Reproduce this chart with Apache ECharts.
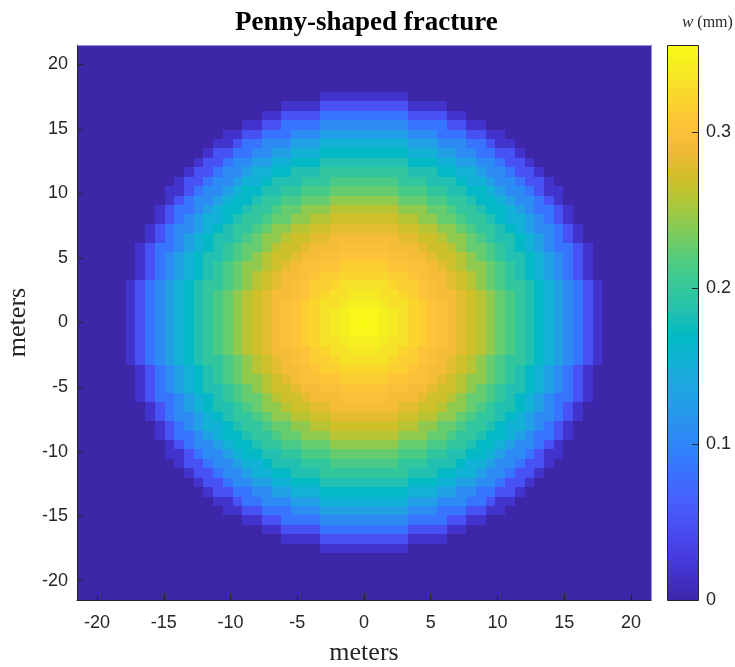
<!DOCTYPE html>
<html>
<head>
<meta charset="utf-8">
<script src="https://cdn.jsdelivr.net/npm/echarts@6/dist/echarts.min.js"></script>
<style>
html,body{margin:0;padding:0;background:#fff;}
#chart{width:735px;height:667px;}
</style>
</head>
<body>
<div id="chart"></div>
<script>
// ---- data ----
const titleText = 'Penny-shaped fracture';
const axisName = 'meters';
const cellsPerSide = 59;              // cells across the square domain
const domainHalfWidth = 21.5;         // metres
// opening w (mm) of each ring of cells, from the centre cell outward (ring index = cell distance)
const ringWidthMM = [0.356, 0.352, 0.345, 0.339, 0.331, 0.322, 0.316, 0.305, 0.300, 0.294,
                     0.281, 0.270, 0.260, 0.243, 0.226, 0.213, 0.198, 0.185, 0.168, 0.152,
                     0.130, 0.107, 0.085, 0.050, 0.018];
const colorMax = 0.356;
const axisTicks = [-20, -15, -10, -5, 0, 5, 10, 15, 20];
const colorbarTicks = [0, 0.1, 0.2, 0.3];
// parula colormap stops
const parula = ['#3E26A8','#4332CB','#4741E5','#4852F4','#4563FD','#3875FE','#2E87F7','#2796EB',
                '#20A5E3','#12B1D6','#02BAC3','#24C1AE','#37C897','#57CC7A','#81CC59','#ABC739',
                '#D1BF27','#F0BA36','#FEC338','#FAD62D','#F5E924','#F9FB15'];

// ---- build cell table ----
const cellSize = 2 * domainHalfWidth / cellsPerSide;
const halfCount = (cellsPerSide - 1) / 2;
const cells = [];
for (let j = -halfCount; j <= halfCount; j++) {
  for (let i = -halfCount; i <= halfCount; i++) {
    const ring = Math.round(Math.hypot(i, j));
    const w = ring < ringWidthMM.length ? ringWidthMM[ring] : 0;
    cells.push([i * cellSize, j * cellSize, w]);
  }
}

const chart = echarts.init(document.getElementById('chart'), null, {renderer: 'canvas'});
const tickFont = {fontFamily: '"Liberation Sans", Arial, Helvetica, sans-serif', fontSize: 18, color: '#262626'};
const serif = '"Liberation Serif", "Times New Roman", Times, serif';

const gradStops = parula.map((c, k) => ({offset: k / (parula.length - 1), color: c}));

chart.setOption({
  animation: false,
  backgroundColor: '#ffffff',
  title: {
    text: titleText, left: 235, top: 10, padding: 0,
    textStyle: {fontFamily: serif, fontSize: 27, fontWeight: 'bold', color: '#000'}
  },
  grid: [
    {left: 77, top: 45, width: 574, height: 555, containLabel: false, outerBoundsMode: 'none'},
    {left: 667, top: 45, width: 31, height: 555, containLabel: false, outerBoundsMode: 'none'}
  ],
  xAxis: [
    {type: 'value', gridIndex: 0, min: -domainHalfWidth, max: domainHalfWidth, position: 'bottom', z: 5,
     axisLine: {show: true, onZero: false, lineStyle: {color: '#262626', width: 1}},
     axisTick: {show: true, inside: true, length: 6, customValues: axisTicks, lineStyle: {color: '#262626'}},
     axisLabel: Object.assign({margin: 14, customValues: axisTicks}, tickFont),
     splitLine: {show: false},
     name: axisName, nameLocation: 'middle', nameGap: 40,
     nameTextStyle: {fontFamily: serif, fontSize: 26, color: '#262626'}},
    {type: 'value', gridIndex: 0, min: -domainHalfWidth, max: domainHalfWidth, position: 'top', z: 5,
     axisLine: {show: true, onZero: false, lineStyle: {color: '#9a90d2', width: 1}},
     axisTick: {show: false}, axisLabel: {show: false}, splitLine: {show: false}},
    {type: 'value', gridIndex: 1, min: 0, max: 1, show: false}
  ],
  yAxis: [
    {type: 'value', gridIndex: 0, min: -domainHalfWidth, max: domainHalfWidth, position: 'left', z: 5,
     axisLine: {show: true, onZero: false, lineStyle: {color: '#262626', width: 1}},
     axisTick: {show: true, inside: true, length: 6, customValues: axisTicks, lineStyle: {color: '#262626'}},
     axisLabel: Object.assign({margin: 9, customValues: axisTicks}, tickFont),
     splitLine: {show: false},
     name: axisName, nameLocation: 'middle', nameGap: 41, nameRotate: 90,
     nameTextStyle: {fontFamily: serif, fontSize: 26, color: '#262626'}},
    {type: 'value', gridIndex: 0, min: -domainHalfWidth, max: domainHalfWidth, position: 'right', z: 5,
     axisLine: {show: true, onZero: false, lineStyle: {color: '#9a90d2', width: 1}},
     axisTick: {show: false}, axisLabel: {show: false}, splitLine: {show: false}},
    {type: 'value', gridIndex: 1, min: 0, max: colorMax, position: 'right', z: 5,
     axisLine: {show: false, onZero: false},
     axisTick: {show: true, inside: true, length: 6, customValues: colorbarTicks, lineStyle: {color: '#262626'}},
     axisLabel: Object.assign({margin: 8, customValues: colorbarTicks}, tickFont),
     splitLine: {show: false}}
  ],
  visualMap: {
    type: 'continuous', show: false, seriesIndex: 0, dimension: 2,
    min: 0, max: colorMax, inRange: {color: parula}
  },
  graphic: [{
    type: 'text', left: 682, top: 14, z: 10,
    style: {
      text: '{i|w} (mm)',
      font: '16px ' + serif,
      fill: '#262626',
      rich: {
        i: {fontStyle: 'italic', fontFamily: serif, fontSize: 17, fill: '#262626'},
      }
    }
  }],
  series: [
    {
      type: 'custom', xAxisIndex: 0, yAxisIndex: 0, z: 1,
      data: cells,
      renderItem: function (params, api) {
        const x = api.value(0), y = api.value(1);
        const a = api.coord([x - cellSize / 2, y + cellSize / 2]);
        const b = api.coord([x + cellSize / 2, y - cellSize / 2]);
        const x0 = Math.round(a[0]), y0 = Math.round(a[1]);
        const x1 = Math.round(b[0]), y1 = Math.round(b[1]);
        return {
          type: 'rect',
          shape: {x: x0, y: y0, width: x1 - x0, height: y1 - y0},
          style: {fill: api.visual('color'), stroke: null}
        };
      }
    },
    {
      type: 'custom', xAxisIndex: 2, yAxisIndex: 2, z: 1,
      data: [[0, colorMax]],
      renderItem: function (params, api) {
        const a = api.coord([0, api.value(1)]);
        const b = api.coord([1, 0]);
        return {
          type: 'rect',
          shape: {x: a[0] + 0.5, y: a[1] + 0.5, width: b[0] - a[0], height: b[1] - a[1]},
          style: {
            fill: new echarts.graphic.LinearGradient(0, 1, 0, 0, gradStops),
            stroke: '#262626', lineWidth: 1
          }
        };
      }
    }
  ]
});
</script>
</body>
</html>
